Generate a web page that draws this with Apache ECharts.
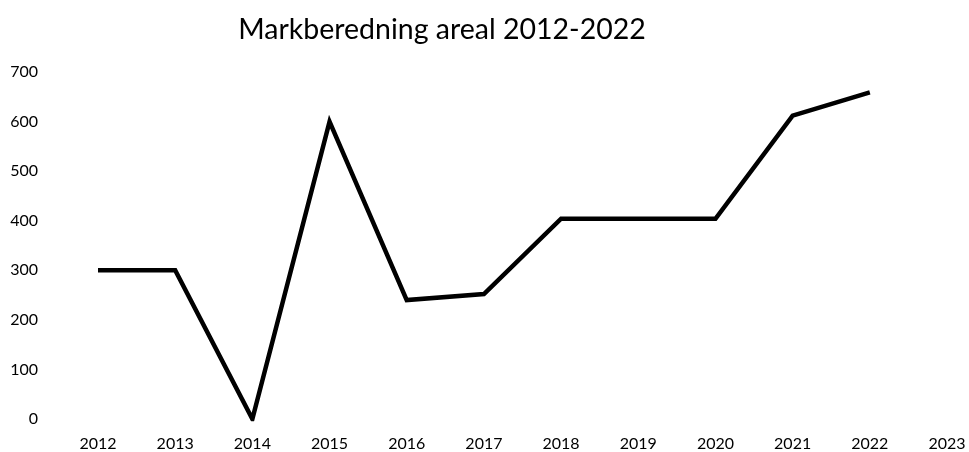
<!DOCTYPE html>
<html>
<head>
<meta charset="utf-8">
<script src="https://cdn.jsdelivr.net/npm/echarts@6/dist/echarts.min.js"></script>
<style>
html,body{margin:0;padding:0;background:#fff;}
#chart{width:969px;height:452px;}
</style>
</head>
<body>
<div id="chart"></div>
<script>
const years = ['2012','2013','2014','2015','2016','2017','2018','2019','2020','2021','2022','2023'];
const values = [300, 300, 0, 600, 240, 252, 404, 404, 404, 612, 659, null];
const yTicks = { min: 0, max: 700, interval: 100 };
const titleText = 'Markberedning areal 2012-2022';

const chart = echarts.init(document.getElementById('chart'), null, { renderer: 'canvas' });
chart.setOption({
  backgroundColor: '#ffffff',
  animation: false,
  title: {
    text: titleText,
    left: 437,
    textAlign: 'center',
    top: 10,
    textStyle: { fontFamily: 'Lato', fontSize: 28.5, fontWeight: 'normal', color: '#000' }
  },
  grid: { left: 98, right: 22, top: 72, bottom: 32, containLabel: false },
  xAxis: {
    type: 'category',
    data: years,
    boundaryGap: false,
    axisLine: { show: false },
    axisTick: { show: false },
    splitLine: { show: false },
    axisLabel: { margin: 17, fontFamily: 'Lato', fontSize: 16, color: '#000', interval: 0 }
  },
  yAxis: {
    type: 'value',
    min: yTicks.min,
    max: yTicks.max,
    interval: yTicks.interval,
    axisLine: { show: false },
    axisTick: { show: false },
    splitLine: { show: false },
    axisLabel: { margin: 60, fontFamily: 'Lato', fontSize: 16, color: '#000' }
  },
  series: [{
    type: 'line',
    data: values,
    symbol: 'none',
    lineStyle: { color: '#000', width: 4.5, join: 'miter' }
  }]
});
</script>
</body>
</html>
